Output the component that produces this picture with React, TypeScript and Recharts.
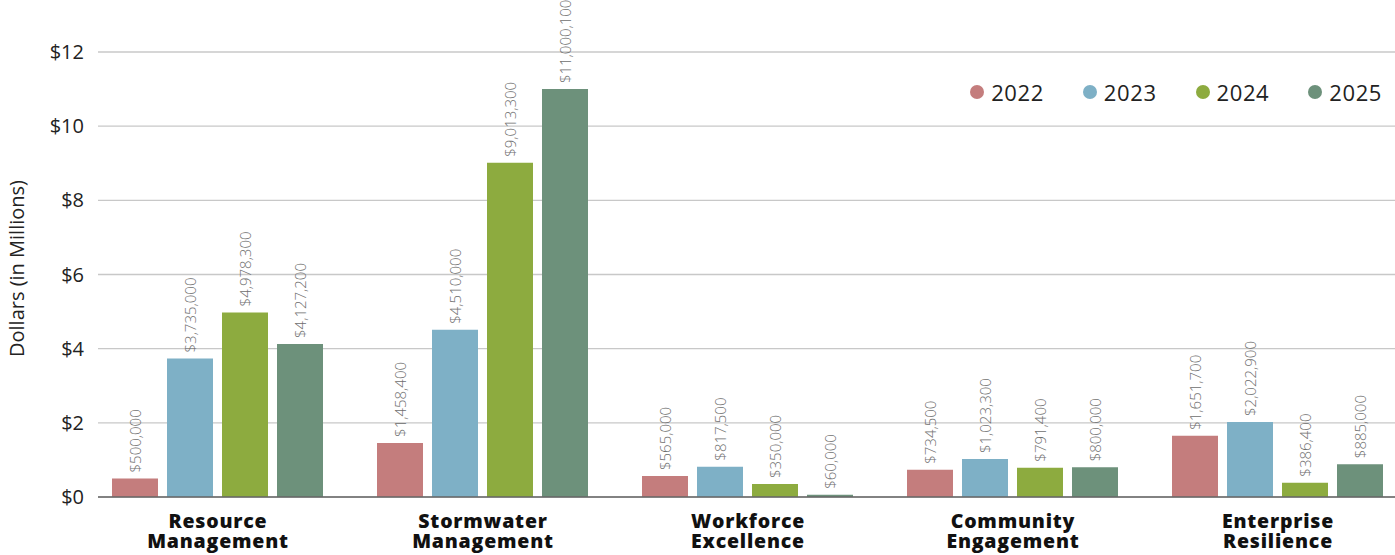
import React from "react";
import { BarChart, Bar, XAxis, YAxis, CartesianGrid, Legend, LabelList } from "recharts";

// Program areas on the horizontal axis
const programs = [
  ["Resource", "Management"],
  ["Stormwater", "Management"],
  ["Workforce", "Excellence"],
  ["Community", "Engagement"],
  ["Enterprise", "Resilience"],
];

// Funding per program, in dollars
const fy2022 = [500000, 1458400, 565000, 734500, 1651700];
const fy2023 = [3735000, 4510000, 817500, 1023300, 2022900];
const fy2024 = [4978300, 9013300, 350000, 791400, 386400];
const fy2025 = [4127200, 11000100, 60000, 800000, 885000];

const yTicks = [0, 2, 4, 6, 8, 10, 12];

const years = ["2022", "2023", "2024", "2025"];
const colors = ["#c47d7d", "#7eb0c6", "#8dab3f", "#6d917b"];
const seriesValues = [fy2022, fy2023, fy2024, fy2025];

const data = programs.map((lines, i) => {
  const row: Record<string, any> = { name: lines.join(" "), lines };
  years.forEach((y, s) => {
    row[y] = seriesValues[s][i] / 1e6;
    row["raw" + y] = seriesValues[s][i];
  });
  return row;
});

const FONT = "'Open Sans', Lato, sans-serif";

const fmtDollars = (v: number) => "$" + Math.round(v).toLocaleString("en-US");

// Two-line bold program name under each group
const CategoryTick = (props: any) => {
  const { x, y, payload } = props;
  const lines = programs[payload.index] || String(payload.value).split(" ");
  return (
    <text
      x={x}
      y={y}
      textAnchor="middle"
      fontFamily={FONT}
      fontWeight={800}
      fontSize={19.5}
      letterSpacing={0.8}
      fill="#111"
    >
      {lines.map((t: string, k: number) => (
        <tspan key={k} x={x} dy={k === 0 ? 23 : 20}>
          {t}
        </tspan>
      ))}
    </text>
  );
};

const makeValueLabel = (year: string) => (props: any) => {
  const { x, y, width, index } = props;
  const raw = data[index]["raw" + year];
  const cx = x + width / 2;
  const ty = y - 6;
  return (
    <text
      x={cx}
      y={ty}
      transform={`rotate(-90, ${cx}, ${ty})`}
      textAnchor="start"
      dominantBaseline="central"
      fontFamily={FONT}
      fontWeight={300}
      fontSize={15}
      fill="#6e6e6e"
    >
      {fmtDollars(raw)}
    </text>
  );
};

const LegendContent = () => (
  <div style={{ display: "flex", alignItems: "center", fontFamily: FONT, fontSize: 22, color: "#222" }}>
    {years.map((y, i) => (
      <div key={y} style={{ display: "flex", alignItems: "center", marginLeft: i === 0 ? 0 : 39 }}>
        <span
          style={{
            display: "inline-block",
            width: 14,
            height: 14,
            borderRadius: 7,
            background: colors[i],
            marginRight: 7,
          }}
        />
        <span style={{ letterSpacing: 0.6 }}>{y}</span>
      </div>
    ))}
  </div>
);

const YTitle = (props: any) => {
  const { viewBox } = props;
  const cx = 16;
  const cy = viewBox.y + viewBox.height / 2 - 6;
  return (
    <text
      x={cx}
      y={cy}
      transform={`rotate(-90, ${cx}, ${cy})`}
      textAnchor="middle"
      dominantBaseline="central"
      fontFamily={FONT}
      fontSize={20}
      fill="#222"
    >
      Dollars (in Millions)
    </text>
  );
};

export default function App() {
  return (
    <div style={{ position: "absolute", left: 0, top: 0, width: 1395, height: 555, overflow: "hidden", background: "#fff" }}>
      <BarChart
        width={1395}
        height={555}
        data={data}
        margin={{ top: 52, right: 0, bottom: 0, left: 0 }}
        barCategoryGap={26.5}
        barGap={9}
      >
        <CartesianGrid vertical={false} stroke="#c8c8c8" strokeWidth={1.3} />
        <XAxis
          dataKey="name"
          padding={{ left: -12.5, right: -15.5 }}
          axisLine={{ stroke: "#666", strokeWidth: 1.5 }}
          tickLine={false}
          tick={<CategoryTick />}
          interval={0}
          height={58}
        />
        <YAxis
          width={98}
          domain={[0, 12]}
          ticks={yTicks}
          axisLine={false}
          tickLine={false}
          tickMargin={8}
          tickFormatter={(v: number) => "$" + v}
          tick={{ fontFamily: FONT, fontSize: 20, fill: "#222" }}
          label={<YTitle />}
        />
        <Legend
          layout="horizontal"
          verticalAlign="middle"
          align="center"
          content={<LegendContent />}
          wrapperStyle={{ top: 77, right: 13, left: "auto", width: "auto" }}
        />
        {years.map((y, i) => (
          <Bar key={y} dataKey={y} fill={colors[i]} isAnimationActive={false}>
            <LabelList dataKey={y} content={makeValueLabel(y)} />
          </Bar>
        ))}
      </BarChart>
    </div>
  );
}
